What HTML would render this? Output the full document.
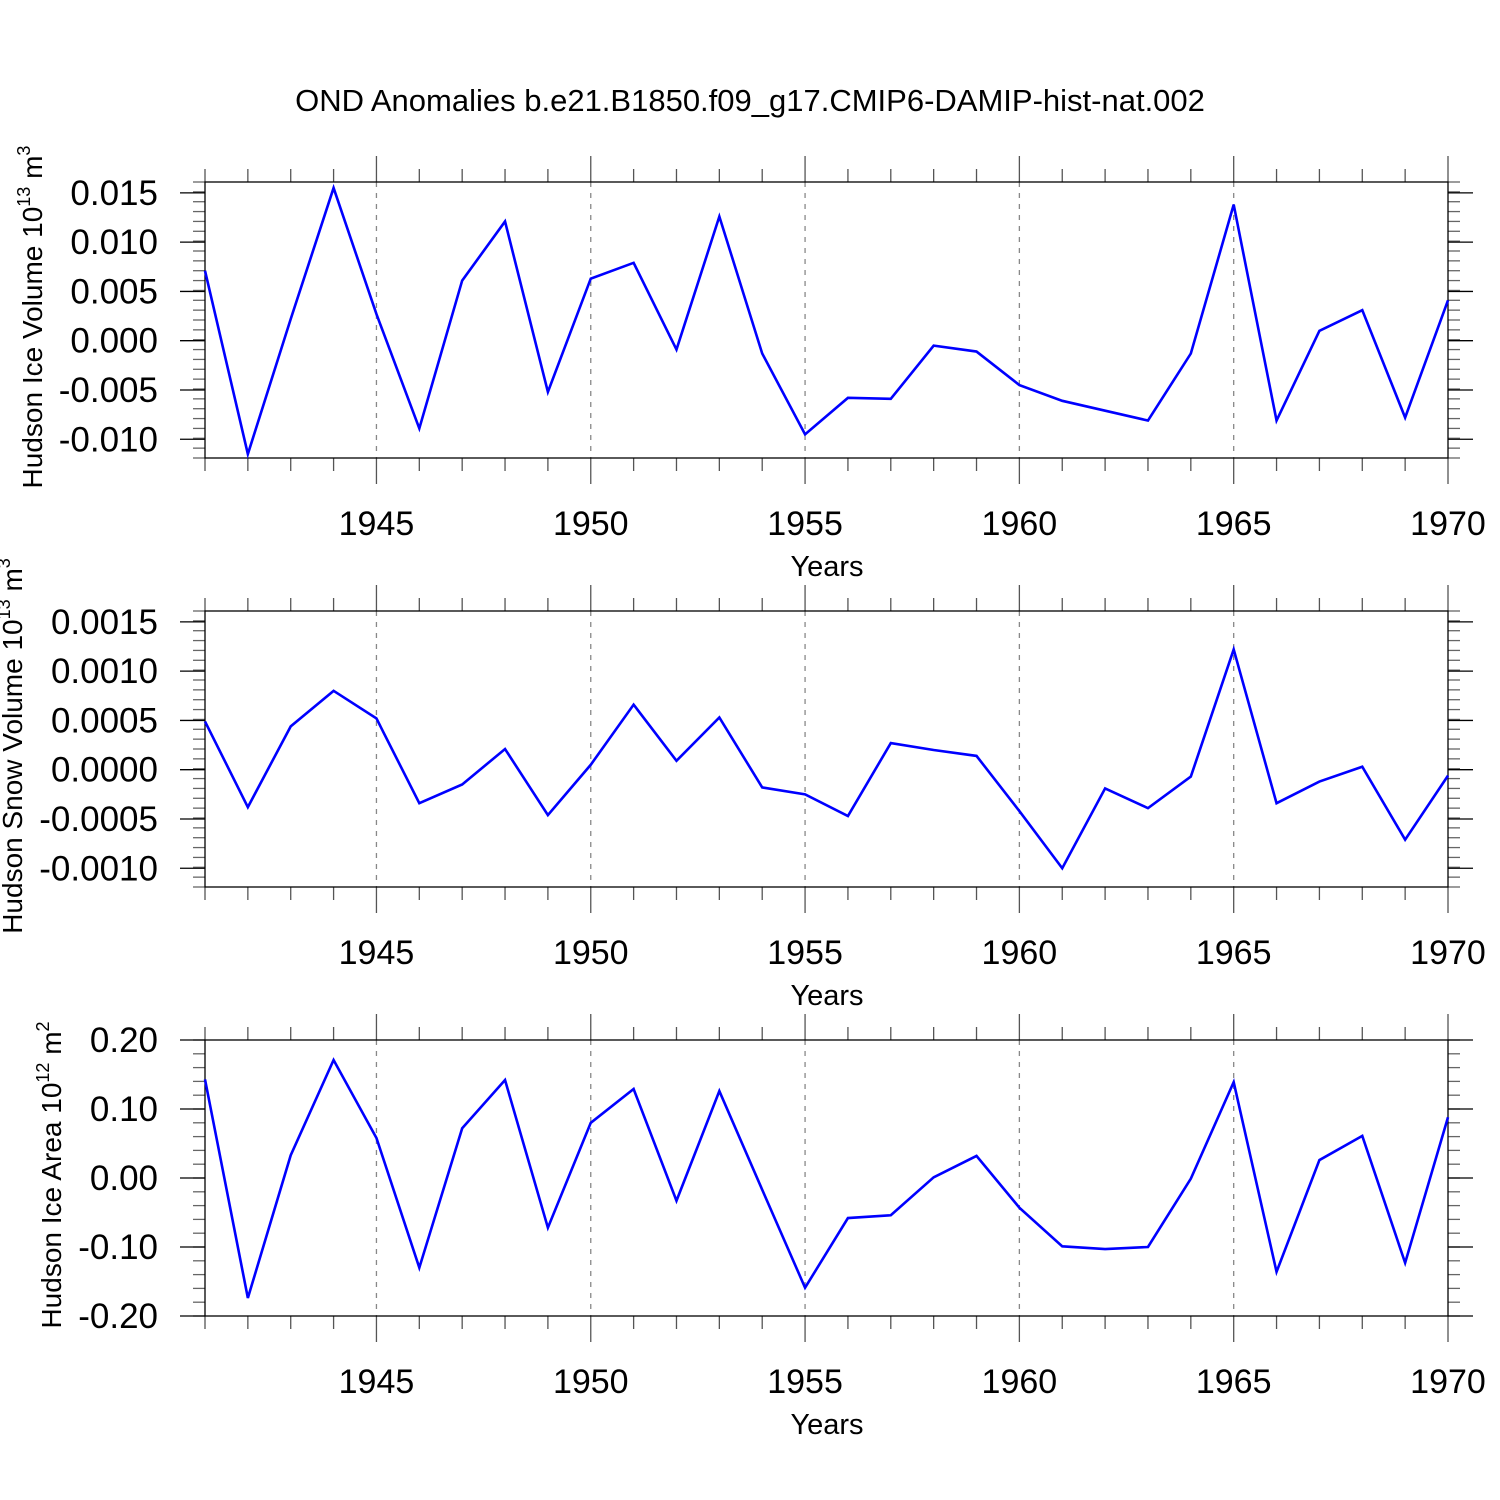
<!DOCTYPE html>
<html><head><meta charset="utf-8"><style>body{margin:0;background:#fff}svg{display:block}text{font-family:"Liberation Sans",sans-serif;fill:#000}</style></head>
<body>
<svg id="c" width="1500" height="1500" xmlns="http://www.w3.org/2000/svg">
<text x="750" y="111" font-size="31" text-anchor="middle">OND Anomalies b.e21.B1850.f09_g17.CMIP6-DAMIP-hist-nat.002</text>
</svg>
<script>
const years = [1941,1942,1943,1944,1945,1946,1947,1948,1949,1950,1951,1952,1953,1954,1955,1956,1957,1958,1959,1960,1961,1962,1963,1964,1965,1966,1967,1968,1969,1970];
const iceVolume = [0.0071,-0.0115,0.0022,0.0155,0.0027,-0.0089,0.0061,0.0121,-0.0052,0.0063,0.0079,-0.0009,0.0126,-0.0013,-0.0095,-0.0058,-0.0059,-0.0005,-0.0011,-0.0045,-0.0061,-0.0071,-0.0081,-0.0013,0.0138,-0.0081,0.0010,0.0031,-0.0078,0.0041];
const snowVolume = [0.00049,-0.00038,0.00044,0.00080,0.00052,-0.00034,-0.00015,0.00021,-0.00046,0.00005,0.00066,0.00009,0.00053,-0.00018,-0.00025,-0.00047,0.00027,0.00020,0.00014,-0.00042,-0.00100,-0.00019,-0.00039,-0.00007,0.00122,-0.00034,-0.00012,0.00003,-0.00071,-0.00006];
const iceArea = [0.143,-0.174,0.033,0.171,0.058,-0.130,0.072,0.142,-0.072,0.080,0.129,-0.033,0.126,-0.017,-0.159,-0.058,-0.054,0.001,0.032,-0.043,-0.099,-0.103,-0.100,-0.001,0.139,-0.136,0.026,0.061,-0.123,0.088];
const xTicks = [1945,1950,1955,1960,1965,1970];
const iceVolTicks = ["-0.010","-0.005","0.000","0.005","0.010","0.015"];
const snowTicks = ["-0.0010","-0.0005","0.0000","0.0005","0.0010","0.0015"];
const areaTicks = ["-0.20","-0.10","0.00","0.10","0.20"];

const svg=document.getElementById('c');
const NS='http://www.w3.org/2000/svg';
function mk(tag,attrs,parent){const e=document.createElementNS(NS,tag);for(const k in attrs)e.setAttribute(k,attrs[k]);(parent||svg).appendChild(e);return e;}
const X0=205,X1=1448;
const xs=y=>X0+(y-1941)*(X1-X0)/29;

function panel(name,top,vmin,vmax,data,ticks,minorStep,ylab,sup,unit,labX){
  const bot=top+276;
  const ys=v=>bot-(v-vmin)*(bot-top)/(vmax-vmin);
  const g=mk('g',{});
  
  
  xTicks.slice(0,5).forEach(t=>{const l=mk('line',{x1:xs(t),x2:xs(t),y1:top,y2:bot,stroke:'#888','stroke-width':1.3,'stroke-dasharray':'5,6'},g);
    });
  for(let y=1941;y<=1970;y++){const maj=y%5===0;const len=maj?26:13;
    mk('line',{x1:xs(y),x2:xs(y),y1:top-len,y2:top,stroke:'#555','stroke-width':1.3},g);
    mk('line',{x1:xs(y),x2:xs(y),y1:bot,y2:bot+len,stroke:'#555','stroke-width':1.3},g);}
  xTicks.forEach(t=>{const tx=mk('text',{x:xs(t),y:bot+77,'font-size':34,'text-anchor':'middle'},g);tx.textContent=t;
    });
  const xl=mk('text',{x:827,y:bot+118,'font-size':29,'text-anchor':'middle'},g);xl.textContent='Years';
  
  const n=Math.round((vmax-vmin)/minorStep);
  for(let i=0;i<=n;i++){const v=vmin+i*minorStep;const yy=ys(v);
    mk('line',{x1:X0-12,x2:X0,y1:yy,y2:yy,stroke:'#666','stroke-width':1.3},g);
    mk('line',{x1:X1,x2:X1+12,y1:yy,y2:yy,stroke:'#666','stroke-width':1.3},g);}
  ticks.forEach(t=>{const yy=ys(parseFloat(t));
    mk('line',{x1:X0-25,x2:X0,y1:yy,y2:yy,stroke:'#000','stroke-width':1.3},g);
    mk('line',{x1:X1,x2:X1+25,y1:yy,y2:yy,stroke:'#000','stroke-width':1.3},g);
    const tx=mk('text',{x:158,y:yy+12,'font-size':35,'text-anchor':'end'},g);tx.textContent=t;
    });
  mk('rect',{x:X0,y:top,width:X1-X0,height:bot-top,fill:'none',stroke:'#000','stroke-width':1.3},g);
  const pts=data.map((v,i)=>xs(years[i])+','+ys(v)).join(' ');
  const pl=mk('polyline',{points:pts,fill:'none',stroke:'#0000ff','stroke-width':2.6,'stroke-linejoin':'miter'},g);
  
  const cy=(top+bot)/2-3;
  const yl=mk('text',{x:0,y:0,'font-size':28,'text-anchor':'middle',transform:`translate(${labX},${cy}) rotate(-90)`},g);
  
  yl.innerHTML=ylab+' 10<tspan font-size="18" dy="-12">'+sup+'</tspan><tspan dy="12"> '+unit+'</tspan><tspan font-size="18" dy="-12">'+(sup==='12'?'2':'3')+'</tspan>';
}
panel('ice-volume',182,-0.0119,0.0161,iceVolume,iceVolTicks,0.001,'Hudson Ice Volume','13','m',42);
panel('snow-volume',611,-0.00119,0.00161,snowVolume,snowTicks,0.0001,'Hudson Snow Volume','13','m',22);
panel('ice-area',1040,-0.2,0.2,iceArea,areaTicks,0.02,'Hudson Ice Area','12','m',61);
</script>
</body></html>
